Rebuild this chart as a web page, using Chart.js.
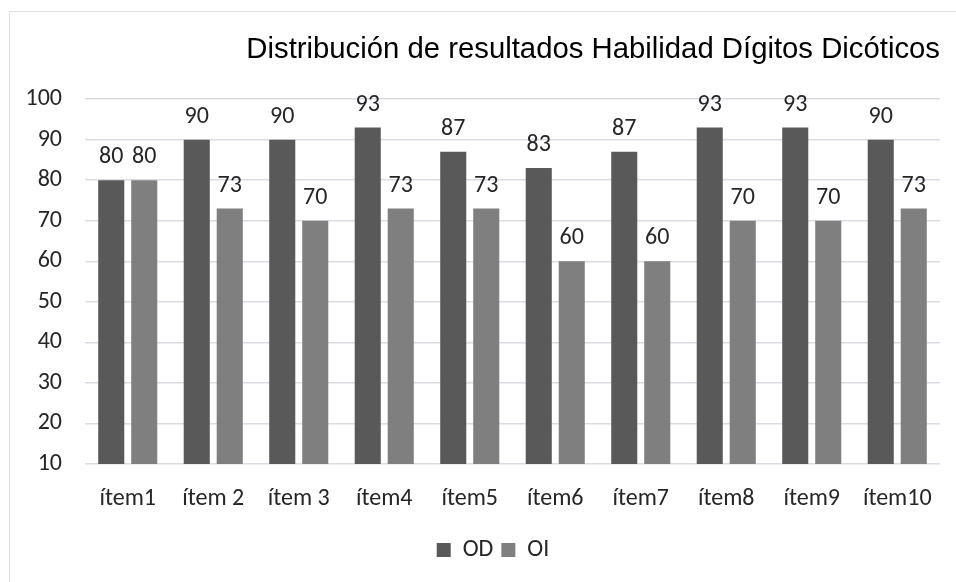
<!DOCTYPE html>
<html>
<head>
<meta charset="utf-8">
<script src="https://cdn.jsdelivr.net/npm/chart.js@4/dist/chart.umd.min.js"></script>
<style>
  html, body { margin: 0; padding: 0; background: #fff; }
  #wrap { position: relative; width: 956px; height: 582px; overflow: hidden; }
  #frame { position: absolute; left: 9px; top: 11px; width: 1000px; height: 700px;
           border-left: 1px solid #dde2e8; border-top: 1px solid #dde2e8; }
  #c { position: absolute; left: 0; top: 0; }
</style>
</head>
<body>
<div id="wrap">
  <div id="frame"></div>
  <canvas id="c" width="956" height="582"></canvas>
</div>
<script>
const titleText = 'Distribución de resultados Habilidad Dígitos Dicóticos';
const categories = ['ítem1', 'ítem 2', 'ítem 3', 'ítem4', 'ítem5', 'ítem6', 'ítem7', 'ítem8', 'ítem9', 'ítem10'];
const seriesNames = ['OD', 'OI'];
const odValues = [80, 90, 90, 93, 87, 83, 87, 93, 93, 90];
const oiValues = [80, 73, 70, 73, 73, 60, 60, 70, 70, 73];
const yMin = 10, yMax = 100, yStep = 10;

const FONT = 'Carlito, Lato, "Open Sans", sans-serif';
const FS = 24;
const TEXT = '#262626';

const valueLabels = {
  id: 'valueLabels',
  afterDatasetsDraw(chart) {
    const ctx = chart.ctx;
    ctx.save();
    ctx.font = FS + 'px ' + FONT;
    ctx.fillStyle = TEXT;
    ctx.textAlign = 'center';
    ctx.textBaseline = 'alphabetic';
    chart.data.datasets.forEach((ds, i) => {
      const meta = chart.getDatasetMeta(i);
      meta.data.forEach((bar, j) => {
        ctx.fillText(String(ds.data[j]), bar.x, bar.y - 17);
      });
    });
    ctx.restore();
  }
};

// nudge the legend so it sits where the original places it
const legendShift = {
  id: 'legendShift',
  afterLayout(chart) {
    const lg = chart.legend;
    if (lg) { lg.left += 23; lg.right += 23; }
  }
};

new Chart(document.getElementById('c'), {
  type: 'bar',
  data: {
    labels: categories,
    datasets: [
      { label: seriesNames[0], data: odValues, backgroundColor: '#595959',
        categoryPercentage: 0.772, barPercentage: 0.79 },
      { label: seriesNames[1], data: oiValues, backgroundColor: '#7f7f7f',
        categoryPercentage: 0.772, barPercentage: 0.79 }
    ]
  },
  options: {
    responsive: false,
    animation: false,
    devicePixelRatio: 1,
    layout: { padding: { left: 0, right: 16, top: 0, bottom: 10 } },
    plugins: {
      title: {
        display: true,
        text: titleText,
        align: 'end',
        color: '#000',
        font: { family: '"Liberation Sans", Arial, sans-serif', size: 29.3, weight: 'normal', lineHeight: 1.2 },
        padding: { top: 32, bottom: 32 }
      },
      legend: {
        position: 'bottom',
        labels: {
          color: TEXT,
          font: { family: FONT, size: FS },
          boxWidth: 14, boxHeight: 14, padding: 8
        }
      },
      tooltip: { enabled: false }
    },
    scales: {
      x: {
        grid: { display: false },
        border: { display: false },
        ticks: { color: TEXT, font: { family: FONT, size: FS }, padding: 13, maxRotation: 0 },
        afterFit(s) { s.height = 66; }
      },
      y: {
        min: yMin, max: yMax,
        grid: { color: '#d9dde3', lineWidth: 1.5, drawTicks: false },
        border: { display: false },
        ticks: { stepSize: yStep, color: TEXT, font: { family: FONT, size: FS }, padding: 23 },
        afterFit(s) { s.width = 85; }
      }
    }
  },
  plugins: [valueLabels, legendShift]
});
</script>
</body>
</html>
